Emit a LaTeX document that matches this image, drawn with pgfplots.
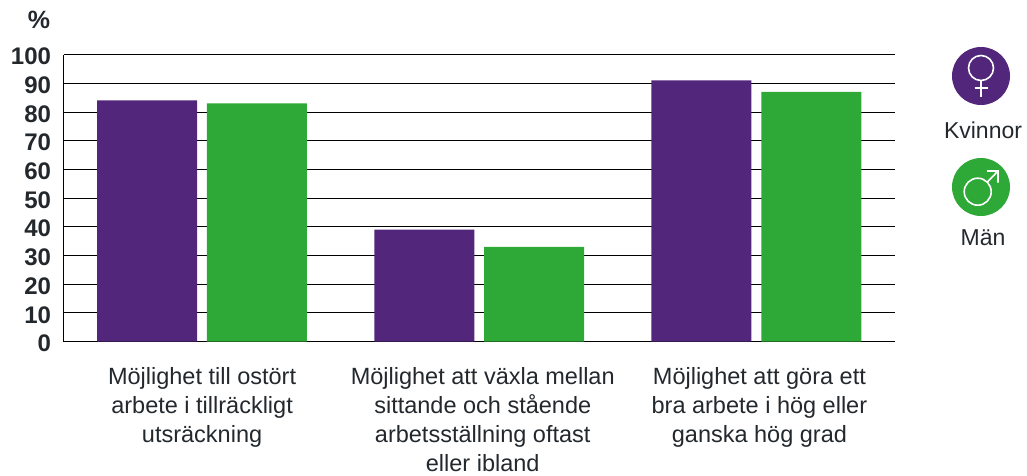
\documentclass[border=0pt]{standalone}
\usepackage{fontspec}
\setmainfont{Liberation Sans}
\usepackage{pgfplots}
\pgfplotsset{compat=1.18}
\definecolor{kvinnor}{RGB}{82,38,122}
\definecolor{man}{RGB}{46,168,54}
\definecolor{txt}{RGB}{35,40,45}

\begin{document}
\begin{tikzpicture}[x=1pt,y=1pt]
\path[use as bounding box] (0,0) rectangle (1027,475);
\begin{axis}[
    at={(63.5pt,133.5pt)}, anchor=south west,
    scale only axis, width=831.5pt, height=287pt,
    xmin=-0.5, xmax=2.5, ymin=0, ymax=100,
    ytick={0,10,...,100},
    xtick={0,1.0126,2.0108},
    xticklabels={{Möjlighet till ostört\\arbete i tillräckligt\\utsräckning},
                 {Möjlighet att växla mellan\\sittande och stående\\arbetsställning oftast\\eller ibland},
                 {Möjlighet att göra ett\\bra arbete i hög eller\\ganska hög grad}},
    xticklabel style={font=\fontsize{23.5}{29}\selectfont, align=center, text=txt, yshift=-22pt},
    yticklabel style={font=\fontsize{24}{24}\selectfont\bfseries, text=txt, /pgf/number format/assume math mode=true, xshift=-9pt, yshift=-2pt},
    major tick length=0pt,
    ymajorgrids,
    grid style={black, line width=0.8pt},
    axis x line*=bottom, axis y line*=left,
    axis line style={black, line width=1pt, -},
    ybar, bar width=0.3607, bar shift=0pt,
    axis on top=false,
]
\addplot[fill=kvinnor, draw=none, bar shift=-0.1984] coordinates {(0,84) (1,39) (2,91)};
\addplot[fill=man, draw=none, bar shift=0.198] coordinates {(0,83) (1,33) (2,87)};
\end{axis}
\node[font=\fontsize{25}{25}\selectfont\bfseries, text=txt] at (39,455) {\%};
% legend
\fill[kvinnor] (981,399) circle (29);
\draw[white, line width=1.6pt] (981,407) circle (12.5);
\draw[white, line width=1.6pt] (981,394.5) -- (981,378) (974.5,387) -- (988,387);
\node[font=\fontsize{23}{23}\selectfont, text=txt] at (983,345) {Kvinnor};
\fill[man] (981,288) circle (29);
\draw[white, line width=1.6pt] (977.7,283.3) circle (13.5);
\draw[white, line width=1.6pt] (987.3,292.9) -- (998,304) (987,304) -- (998,304) -- (998,292.5);
\node[font=\fontsize{23}{23}\selectfont, text=txt] at (983,237) {Män};
\end{tikzpicture}
\end{document}
